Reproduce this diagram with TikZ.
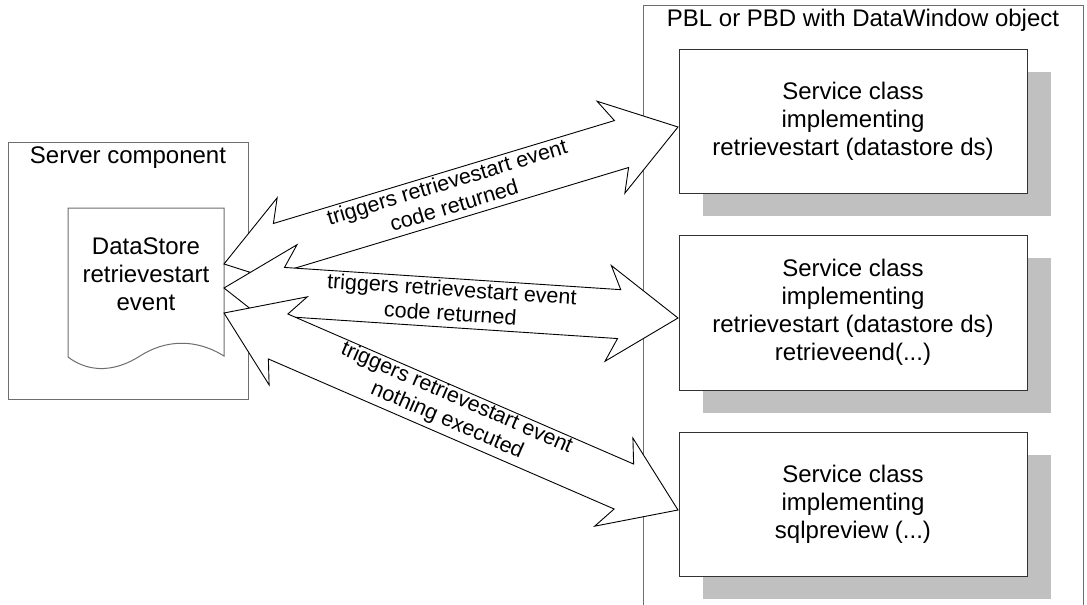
\documentclass[tikz,border=0pt]{standalone}
\usepackage{fontspec}
\setmainfont{Liberation Sans}
\usetikzlibrary{calc,shadows}
\definecolor{shadowgray}{RGB}{192,192,192}
\definecolor{edgegray}{RGB}{110,110,110}
\definecolor{boxedge}{RGB}{50,50,50}

\newcommand{\myblockarrow}[2]{%
  \draw[blockarrow] (#1)
   -- ($(#1)!70pt!(#2)!48pt!90:(#2)$)
   -- ($(#1)!59pt!(#2)!24.5pt!90:(#2)$)
   -- ($(#2)!59pt!(#1)!24.5pt!-90:(#1)$)
   -- ($(#2)!70pt!(#1)!48pt!-90:(#1)$)
   -- (#2)
   -- ($(#2)!70pt!(#1)!48pt!90:(#1)$)
   -- ($(#2)!59pt!(#1)!24.5pt!90:(#1)$)
   -- ($(#1)!59pt!(#2)!24.5pt!-90:(#2)$)
   -- ($(#1)!70pt!(#2)!48pt!-90:(#2)$)
   -- cycle;}

\begin{document}
\begin{tikzpicture}[x=1pt,y=-1pt,
  every node/.style={inner sep=0pt, outer sep=0pt},
  bigtext/.style={font=\fontsize{24}{28}\selectfont, align=center},
  lbl/.style={font=\fontsize{21.5}{24.5}\selectfont, align=center},
  outerbox/.style={draw=edgegray, line width=1pt},
  svcbox/.style={draw=boxedge, line width=1pt, fill=white, bigtext,
     minimum width=348, drop shadow={shadow xshift=24pt, shadow yshift=-23pt, fill=shadowgray, opacity=1}},
  docline/.style={draw=edgegray, line width=1pt, fill=white},
  blockarrow/.style={draw=black, line width=0.9pt, fill=white, line join=miter}]
\useasboundingbox (0,0) rectangle (1087,605);
\clip (0,0) rectangle (1087,605);
\fill[white] (0,0) rectangle (1087,605);

% outer containers
\node[outerbox, minimum width=240, minimum height=257] (server) at (128,270.5) {};
\node[bigtext, anchor=base] (servertitle) at (128,163) {Server component};
\node[outerbox, minimum width=440, minimum height=615] (pbl) at (863,312.5) {};
\node[bigtext, anchor=base] (pbltitle) at (863,27) {PBL or PBD with DataWindow object};

% document shape
\node[minimum width=156, minimum height=149] (doc) at (146,282.5) {};
\draw[docline] (doc.south west) -- (doc.north west) -- (doc.north east)
  -- ($(doc.south east)+(0,-1)$) .. controls (195,338) and (165,340) .. (140,356)
  .. controls (110,375) and (85,370) .. (doc.south west) -- cycle;
\node[bigtext] (doctext) at ($(doc.center)+(0,-8.5)$) {DataStore\\retrievestart\\event};

% service class boxes
\node[svcbox, minimum height=144] (b1) at (853,121)
  {Service class\\implementing\\retrievestart (datastore ds)};
\node[svcbox, minimum height=155] (b2) at (853,312.5)
  {Service class\\implementing\\retrievestart (datastore ds)\\retrieveend(...)};
\node[svcbox, minimum height=144] (b3) at (853,504)
  {Service class\\implementing\\sqlpreview (...)};

% arrow end points
\coordinate (s1) at ($(doc.north east)+(0,56)$);
\coordinate (s2) at ($(doc.north east)+(0,80)$);
\coordinate (s3) at ($(doc.north east)+(0,105)$);
\coordinate (e1) at ($(b1.west)+(-1,6)$);
\coordinate (e2) at ($(b2.west)+(-1,5.5)$);
\coordinate (e3) at ($(b3.west)+(-1,6)$);

\myblockarrow{s1}{e1}
\path (s1) -- node[lbl, sloped, yshift=2pt] (l1) {triggers retrievestart event\\code returned} (e1);
\myblockarrow{s2}{e2}
\path (s2) -- node[lbl, sloped, yshift=2pt] (l2) {triggers retrievestart event\\code returned} (e2);
\myblockarrow{s3}{e3}
\path (s3) -- node[lbl, sloped, yshift=2pt] (l3) {triggers retrievestart event\\nothing executed} (e3);
\end{tikzpicture}
\end{document}
